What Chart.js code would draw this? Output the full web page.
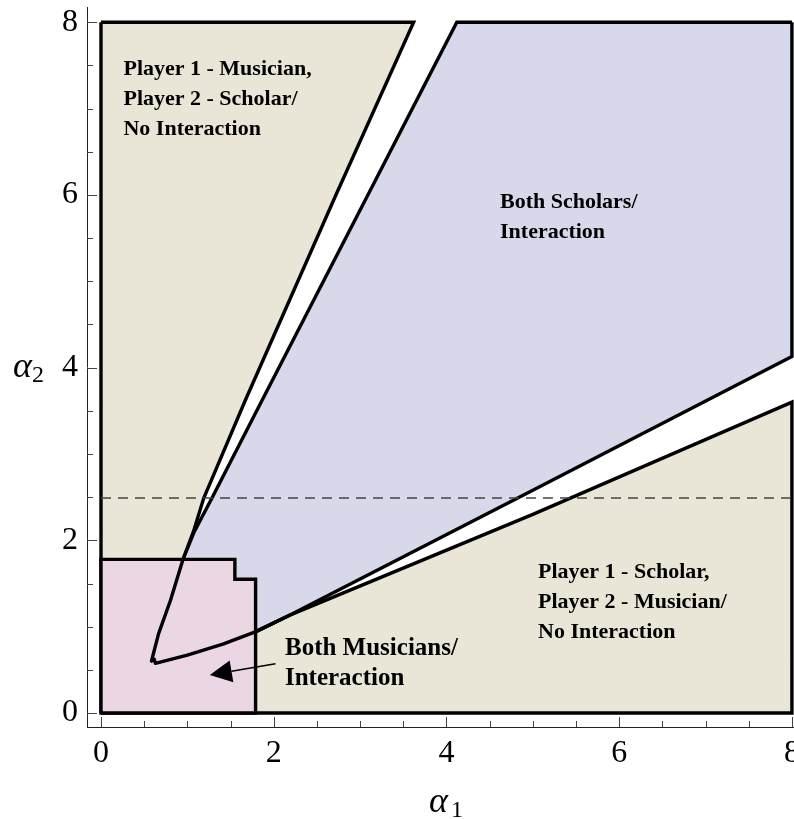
<!DOCTYPE html>
<html>
<head>
<meta charset="utf-8">
<script src="https://cdn.jsdelivr.net/npm/chart.js@4.4.1/dist/chart.umd.min.js"></script>
<style>
html, body { margin: 0; padding: 0; background: #fff; overflow: hidden; }
#wrap { position: relative; width: 794px; height: 819px; }
</style>
</head>
<body>
<div id="wrap"><canvas id="regionChart"></canvas></div>
<script>
// region boundaries as [alpha1, alpha2] pairs
const upperMusicianEdge = [[3.62, 8], [2.72, 6], [1.67, 3.62], [1.19, 2.49], [1.07, 2.1], [0.95, 1.78]];
const upperScholarEdge = [[4.12, 8], [3.09, 6], [1.864, 3.62], [1.285, 2.49], [1.08, 2.1], [0.95, 1.78]];
const cuspCurve = [[0.95, 1.78], [0.805, 1.306], [0.667, 0.92], [0.6, 0.66], [0.585, 0.6], [0.615, 0.625], [0.63, 0.575], [1.0, 0.67], [1.42, 0.8], [1.786, 0.94], [2.2, 1.14]];
const lowerScholarEdge = [[2.2, 1.14], [5, 2.58], [8, 4.13]];
const lowerMusicianEdge = [[2.2, 1.14], [5, 2.3], [8, 3.6]];
const musiciansBox = [[0, 0], [0, 1.78], [1.55, 1.78], [1.55, 1.55], [1.79, 1.55], [1.79, 0], [0, 0]];
const thresholdAlpha2 = 2.49;
const arrowTailTip = [[2.02, 0.57], [1.26, 0.44]];

const xTickLabels = [0, 2, 4, 6, 8];
const yTickLabels = [0, 2, 4, 6, 8];

const noteMusicianScholar = ['Player 1 - Musician,', 'Player 2 - Scholar/', 'No Interaction'];
const noteScholars = ['Both Scholars/', 'Interaction'];
const noteScholarMusician = ['Player 1 - Scholar,', 'Player 2 - Musician/', 'No Interaction'];
const noteMusicians = ['Both Musicians/', 'Interaction'];

const pts = (arr) => arr.map(p => ({ x: p[0], y: p[1] }));

const beigePoly = [[0, 8]].concat(upperMusicianEdge, cuspCurve.slice(1), lowerMusicianEdge.slice(1), [[8, 0], [0, 0], [0, 8]]);
const bluePoly = [[8, 8]].concat(upperScholarEdge, cuspCurve.slice(1), lowerScholarEdge.slice(1), [[8, 8]]);

const SERIF = '"Liberation Serif", "Times New Roman", serif';

const tickMarks = {
    id: 'tickMarks',
    afterDraw(chart) {
        const { ctx, chartArea, scales } = chart;
        ctx.save();
        ctx.strokeStyle = '#444';
        ctx.lineWidth = 1;
        for (let i = 0; i <= 16; i++) {
            const v = i * 0.5;
            const len = (i % 4 === 0) ? 10 : 6;
            const px = Math.round(scales.x.getPixelForValue(v)) + 0.5;
            ctx.beginPath();
            ctx.moveTo(px, chartArea.bottom);
            ctx.lineTo(px, chartArea.bottom - len);
            ctx.stroke();
            const py = Math.round(scales.y.getPixelForValue(v)) + 0.5;
            ctx.beginPath();
            ctx.moveTo(chartArea.left, py);
            ctx.lineTo(chartArea.left + len, py);
            ctx.stroke();
        }
        ctx.restore();
    }
};

const notes = {
    id: 'notes',
    afterDatasetsDraw(chart) {
        const { ctx, scales } = chart;
        const X = v => scales.x.getPixelForValue(v);
        const Y = v => scales.y.getPixelForValue(v);
        ctx.save();
        ctx.fillStyle = '#000';
        ctx.textAlign = 'left';
        ctx.textBaseline = 'alphabetic';
        const block = (lines, x, y, size) => {
            ctx.font = 'bold ' + size + 'px ' + SERIF;
            lines.forEach((t, i) => ctx.fillText(t, X(x), Y(y) + i * 30));
        };
        block(noteMusicianScholar, 0.26, 7.39, 22);
        block(noteScholars, 4.62, 5.85, 22);
        block(noteScholarMusician, 5.06, 1.56, 22);
        block(noteMusicians, 2.13, 0.67, 25);

        // arrow
        const [t, h] = arrowTailTip;
        const x0 = X(t[0]), y0 = Y(t[1]), x1 = X(h[0]), y1 = Y(h[1]);
        const ang = Math.atan2(y1 - y0, x1 - x0);
        const hl = 22, hw = 11;
        const bx = x1 - hl * Math.cos(ang), by = y1 - hl * Math.sin(ang);
        ctx.strokeStyle = '#000';
        ctx.lineWidth = 1.5;
        ctx.beginPath();
        ctx.moveTo(x0, y0);
        ctx.lineTo(bx, by);
        ctx.stroke();
        ctx.beginPath();
        ctx.moveTo(x1, y1);
        ctx.lineTo(bx + hw * Math.sin(ang), by - hw * Math.cos(ang));
        ctx.lineTo(bx - hw * Math.sin(ang), by + hw * Math.cos(ang));
        ctx.closePath();
        ctx.fill();

        // axis titles: alpha italic, subscript upright
        ctx.font = 'italic 36px ' + SERIF;
        ctx.fillText('α', 13, 377);
        ctx.fillText('α', 429, 812);
        ctx.font = '24px ' + SERIF;
        ctx.fillText('2', 32, 382);
        ctx.fillText('1', 451, 817);
        ctx.restore();
    }
};

const outline = { borderColor: '#000', borderWidth: 3.4, pointRadius: 0, showLine: true, tension: 0, borderJoinStyle: 'miter' };

new Chart(document.getElementById('regionChart'), {
    type: 'scatter',
    data: {
        datasets: [
            Object.assign({ data: pts(beigePoly), backgroundColor: 'rgb(233,230,216)', fill: 'shape', order: 5 }, outline),
            Object.assign({ data: pts(bluePoly), backgroundColor: 'rgb(216,216,235)', fill: 'shape', order: 4 }, outline),
            Object.assign({ data: pts(musiciansBox), backgroundColor: 'rgb(234,215,227)', fill: 'shape', order: 3 }, outline),
            Object.assign({ data: pts(cuspCurve), fill: false, order: 2 }, outline, { borderJoinStyle: 'round' }),
            { data: pts([[0, thresholdAlpha2], [8, thresholdAlpha2]]), showLine: true, pointRadius: 0, fill: false,
              borderColor: '#444', borderWidth: 1.3, borderDash: [10, 7], order: 1 }
        ]
    },
    options: {
        responsive: true,
        maintainAspectRatio: false,
        animation: false,
        events: [],
        layout: { padding: { top: 7, left: 0, right: 0, bottom: 0 } },
        plugins: { legend: { display: false }, tooltip: { enabled: false } },
        scales: {
            x: {
                type: 'linear', min: -0.162, max: 8.024,
                afterBuildTicks: (s) => { s.ticks = xTickLabels.map(v => ({ value: v })); },
                afterFit: (s) => { s.height = 92; s.paddingLeft = 0; s.paddingRight = 0; },
                grid: { display: false, drawTicks: false },
                border: { display: true, color: '#222', width: 1 },
                ticks: { color: '#000', padding: 7, font: { family: SERIF, size: 32 } }
            },
            y: {
                type: 'linear', min: -0.162, max: 8.177,
                afterBuildTicks: (s) => { s.ticks = yTickLabels.map(v => ({ value: v })); },
                afterFit: (s) => { s.width = 87; s.paddingTop = 0; s.paddingBottom = 0; },
                grid: { display: false, drawTicks: false },
                border: { display: true, color: '#222', width: 1 },
                ticks: { color: '#000', padding: 9, font: { family: SERIF, size: 32 } }
            }
        }
    },
    plugins: [tickMarks, notes]
});
</script>
</body>
</html>
